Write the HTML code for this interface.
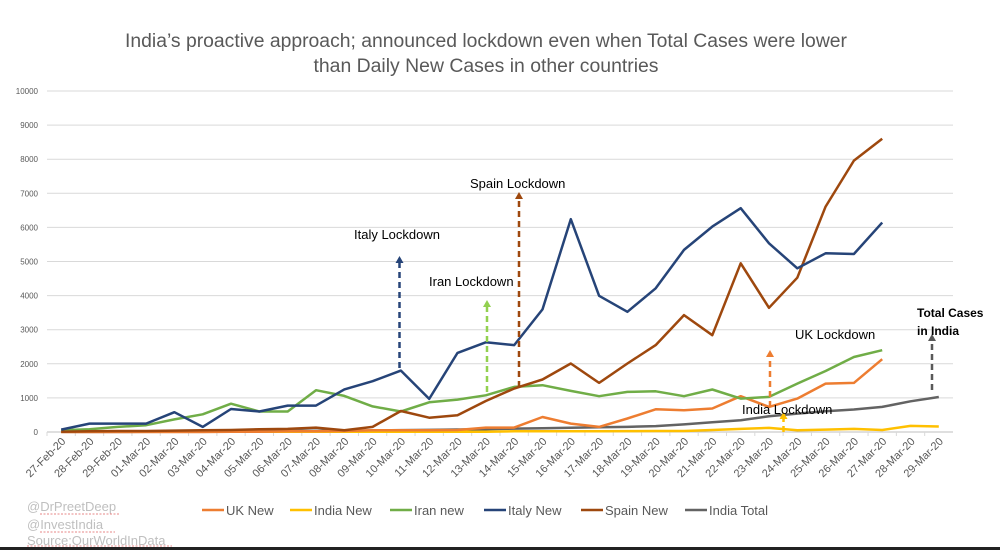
<!DOCTYPE html>
<html><head><meta charset="utf-8"><style>
body{margin:0;background:#fff;}
svg{display:block;font-family:"Liberation Sans",sans-serif;}
</style></head><body>
<svg id="chart" width="1000" height="550" viewBox="0 0 1000 550">
<rect width="1000" height="550" fill="#fff"/>
<g fill="#595959" font-size="19" text-anchor="middle">
<text x="486" y="47" textLength="722" lengthAdjust="spacingAndGlyphs">India’s proactive approach; announced lockdown even when Total Cases were lower</text>
<text x="486" y="72" textLength="345" lengthAdjust="spacingAndGlyphs">than Daily New Cases in other countries</text>
</g>
<g id="grid"></g>
<g id="yticks"></g>
<g id="xticks"></g>
<g id="series"></g>
<g id="annotations"></g>
<g id="legend"></g>
<g fill="#bfbfbf" font-size="13">
<text x="27" y="511">@DrPreetDeep</text>
<text x="27" y="529">@InvestIndia</text>
<text x="27" y="545">Source:OurWorldInData</text>
<path d="M40 514 h80 M40 532 h75 M27 546 h145" stroke="#e06060" stroke-width="0.8" stroke-dasharray="2 1.5"/>
</g>
<rect x="0" y="547" width="1000" height="3" fill="#222"/>
</svg>
<script>
const dates=["27-Feb-20","28-Feb-20","29-Feb-20","01-Mar-20","02-Mar-20","03-Mar-20","04-Mar-20","05-Mar-20","06-Mar-20","07-Mar-20","08-Mar-20","09-Mar-20","10-Mar-20","11-Mar-20","12-Mar-20","13-Mar-20","14-Mar-20","15-Mar-20","16-Mar-20","17-Mar-20","18-Mar-20","19-Mar-20","20-Mar-20","21-Mar-20","22-Mar-20","23-Mar-20","24-Mar-20","25-Mar-20","26-Mar-20","27-Mar-20","28-Mar-20","29-Mar-20"];
const yTicks=[0,1000,2000,3000,4000,5000,6000,7000,8000,9000,10000];
const ukNew=[0,0,0,0,0,0,10,10,20,20,30,50,50,50,60,130,130,440,245,150,395,665,640,690,1050,735,980,1420,1440,2135];
const indiaNew=[5,5,5,5,5,5,20,5,5,5,10,10,10,10,10,10,20,20,20,20,25,30,30,60,90,120,50,70,90,60,180,160];
const iranNew=[50,80,150,200,370,520,830,600,600,1225,1060,750,600,870,950,1075,1322,1372,1205,1050,1175,1195,1050,1245,980,1030,1420,1790,2200,2400];
const italyNew=[70,245,245,245,580,150,675,600,775,775,1250,1490,1800,970,2320,2630,2547,3596,6240,3995,3525,4213,5340,6023,6563,5535,4800,5240,5220,6140];
const spainNew=[10,20,30,30,40,50,60,80,90,130,50,150,615,420,490,910,1275,1540,2010,1440,2010,2547,3428,2840,4947,3643,4525,6610,7960,8600];
const indiaTotal=[3,3,3,5,5,6,28,30,31,34,39,43,56,62,73,82,100,110,127,137,151,173,223,283,345,460,540,610,660,735,900,1025];
const seriesNames=["UK New","India New","Iran new","Italy New","Spain New","India Total"];
const seriesColors=["#ed7d31","#ffc000","#70ad47","#264478","#9e480e","#636363"];

const NS="http://www.w3.org/2000/svg";
const X0=47,X1=953,Y0=432,Y1=91;
const step=(X1-X0)/dates.length;
function xs(i){return X0+step*(i+0.5);}
function ys(v){return Y0-(v/10000)*(Y0-Y1);}
function mk(tag,attrs,parent){const e=document.createElementNS(NS,tag);for(const k in attrs)e.setAttribute(k,attrs[k]);parent.appendChild(e);return e;}
const grid=document.getElementById('grid'),yt=document.getElementById('yticks'),xt=document.getElementById('xticks');
yTicks.forEach(v=>{
  const l=mk('line',{x1:X0,x2:X1,y1:ys(v),y2:ys(v),stroke:v===0?'#bfbfbf':'#d9d9d9','stroke-width':1},grid);
  
  
  const t=mk('text',{x:38,y:ys(v)+3,'text-anchor':'end','font-size':8,fill:'#595959'},yt);
  t.textContent=v;
  
  
});
dates.forEach((d,i)=>{
  const tx=X0+step*i;
  mk('line',{x1:tx,x2:tx,y1:Y0,y2:Y0+4,stroke:'#d9d9d9'},xt);
  const t=mk('text',{x:xs(i)+5,y:442,'text-anchor':'end','font-size':11,fill:'#595959',transform:`rotate(-45 ${xs(i)+5} 442)`},xt);
  t.textContent=d;
  
  
});
const allSeries=[ukNew,indiaNew,iranNew,italyNew,spainNew,indiaTotal];
const sg=document.getElementById('series');
const order=[5,1,0,2,4,3];
order.forEach(k=>{
  const pts=allSeries[k].map((v,i)=>xs(i).toFixed(1)+','+ys(v).toFixed(1)).join(' ');
  const p=mk('polyline',{points:pts,fill:'none',stroke:seriesColors[k],'stroke-width':2.5,'stroke-linejoin':'round'},sg);
  
  
});
const an=document.getElementById('annotations');
function arrow(x,y1,y2,color,name){
  const g=mk('g',{},an);
  
  
  mk('line',{x1:x,x2:x,y1:y1,y2:y2+6,stroke:color,'stroke-width':2.5,'stroke-dasharray':'6 4'},g);
  mk('polygon',{points:`${x-4},${y2+7} ${x+4},${y2+7} ${x},${y2}`,fill:color},g);
}
arrow(399.5,368,256,'#264478','italy-lockdown-arrow');
arrow(487,392,300,'#92d050','iran-lockdown-arrow');
arrow(519,387,192,'#9e480e','spain-lockdown-arrow');
arrow(770,407,350,'#ed7d31','uk-lockdown-arrow');
arrow(783.5,432,412,'#ffc000','india-lockdown-arrow');
arrow(932,390,334,'#595959','total-cases-arrow');
function label(txt,x,y,name,bold,fs){
  const t=mk('text',{x:x,y:y,'font-size':fs||13,fill:'#000','font-weight':bold?'bold':'normal'},an);
  t.textContent=txt;
  
  
}
label('Italy Lockdown',354,239,'italy-lockdown-label');
label('Iran Lockdown',429,286,'iran-lockdown-label');
label('Spain Lockdown',470,188,'spain-lockdown-label');
label('UK Lockdown',795,339,'uk-lockdown-label');
label('India Lockdown',742,414,'india-lockdown-label');
label('Total Cases',917,317,'total-cases-label',true,12);
label('in India',917,335,'total-cases-label-2',true,12);
const lg=document.getElementById('legend');
const lx=[202,290,390,484,581,685];
seriesNames.forEach((n,k)=>{
  const g=mk('g',{},lg);
  
  
  mk('line',{x1:lx[k],x2:lx[k]+22,y1:510,y2:510,stroke:seriesColors[k],'stroke-width':2.5},g);
  const t=mk('text',{x:lx[k]+24,y:515,'font-size':13,fill:'#595959'},g);
  t.textContent=n;
});
</script>
</body></html>
